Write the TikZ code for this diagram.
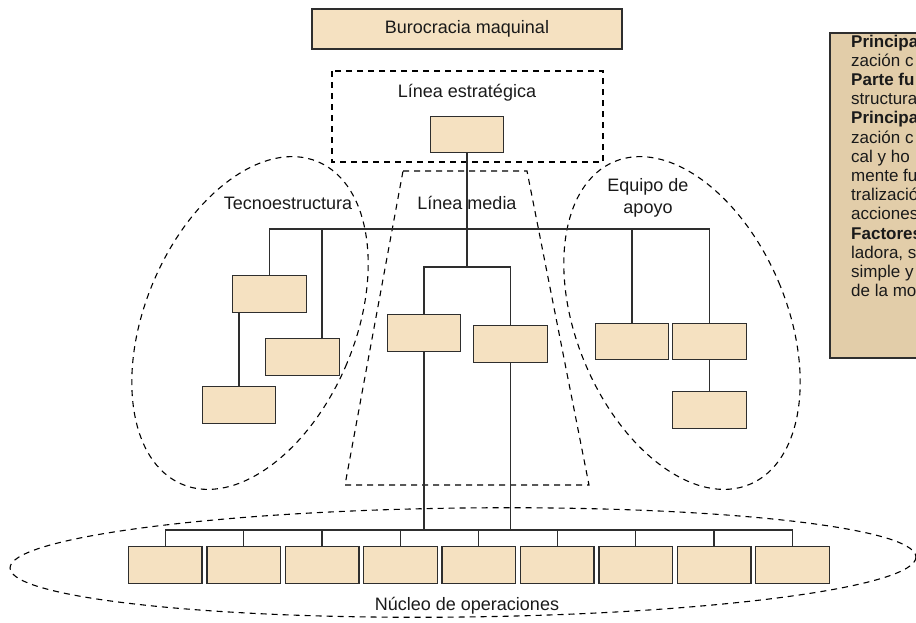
\documentclass[tikz,border=0pt]{standalone}
\usepackage{fontspec}
\setmainfont{Liberation Sans}
\definecolor{boxfill}{HTML}{F5E1C1}
\definecolor{boxline}{HTML}{2E2E2E}
\definecolor{sidefill}{HTML}{E2CDA9}
\definecolor{txt}{HTML}{1A1A1A}
\begin{document}
\begin{tikzpicture}[x=1pt,y=-1pt,
  orgbox/.style={draw=boxline, fill=boxfill, line width=1.4pt, inner sep=0pt, minimum width=73.5pt, minimum height=36.5pt},
  conn/.style={draw=boxline, line width=1.2pt},
  zone/.style={draw=black, line width=1.1pt, dash pattern=on 6pt off 5pt},
  lbl/.style={text=txt, font=\fontsize{18}{21}\selectfont, inner sep=0pt, align=center},
  side/.style={text=txt, font=\fontsize{17}{19}\selectfont, inner sep=0pt, anchor=base west}]
\useasboundingbox (0,0) rectangle (916,622);

% title
\node[draw=boxline, fill=boxfill, line width=1.4pt, minimum width=310pt, minimum height=40pt, inner sep=0pt, lbl] (title) at (467,29) {Burocracia maquinal};

% side panel
\path[draw=boxline, fill=sidefill, line width=1.4pt] (830,33) rectangle (940,358);
\foreach \t [count=\i] in {{\bfseries Principal}, {zación c}, {\bfseries Parte fu}, {structura}, {\bfseries Principal}, {zación c}, {cal y ho}, {mente fu}, {tralizació}, {acciones}, {\bfseries Factores}, {ladora, s}, {simple y}, {de la mo}}
  \node[side] (rt\i) at (851,{47+19.2*(\i-1)}) {\t};

% dashed zones
\draw[zone] (332,71) rectangle (603,162);
\draw[zone] (403,171) -- (527,171) -- (589,485) -- (345,485) -- cycle;
\draw[zone, rotate around={-22.8:(250,323)}] (250,323) ellipse [x radius=105, y radius=175];
\draw[zone, rotate around={22.8:(682,323)}] (682,323) ellipse [x radius=105, y radius=175];
\draw[zone, rotate around={0.7:(463,562.5)}] (463,562.5) ellipse [x radius=453, y radius=54.5];

% zone labels
\node[lbl] (lest) at (467,93) {Línea estratégica};
\node[lbl] (lmed) at (467,203) {Línea media};
\node[lbl] (ltec) at (288,203) {Tecnoestructura};
\node[lbl, text depth=0pt] (lapo) at (648,196) {Equipo de\\[1pt]apoyo};
\node[lbl] (lnuc) at (467,606) {Núcleo de operaciones};

% boxes
\node[orgbox] (s) at (467,134.5) {};
\node[orgbox] (t1) at (269.5,294) {};
\node[orgbox] (t2) at (302.5,357) {};
\node[orgbox] (t3) at (239,405) {};
\node[orgbox] (m1) at (424,333) {};
\node[orgbox] (m2) at (510.5,344) {};
\node[orgbox] (a1) at (632,341.5) {};
\node[orgbox] (a2) at (709.5,341.5) {};
\node[orgbox] (a3) at (709.5,410) {};
\foreach \i in {1,...,9}
  \node[orgbox] (o\i) at ({165.25+78.4*(\i-1)},565) {};

% junctions
\coordinate (busL) at (269.5,229);
\coordinate (busR) at (709.5,229);
\coordinate (mj) at (467,267);
\coordinate (t2top) at (322,339);
\coordinate (opbus) at (467,530);

% connectors
\draw[conn] (s.south) -- (mj);
\draw[conn] (t1.north) |- (busR) -- (a2.north);
\draw[conn] (t2top) -- (t2top |- busL);
\draw[conn] (a1.north) -- (a1.north |- busL);
\draw[conn] (t3.north) -- (t3.north |- t1.south);
\draw[conn] (a3.north) -- (a2.south);
\draw[conn] (m1.north) |- (mj) -| (m2.north);
\draw[conn] (m1.south) -- (m1.south |- opbus);
\draw[conn] (m2.south) -- (m2.south |- opbus);
\draw[conn] (o1.north) |- (opbus) -| (o9.north);
\foreach \i in {2,...,8}
  \draw[conn] (o\i.north) -- (o\i.north |- opbus);
\end{tikzpicture}
\end{document}
